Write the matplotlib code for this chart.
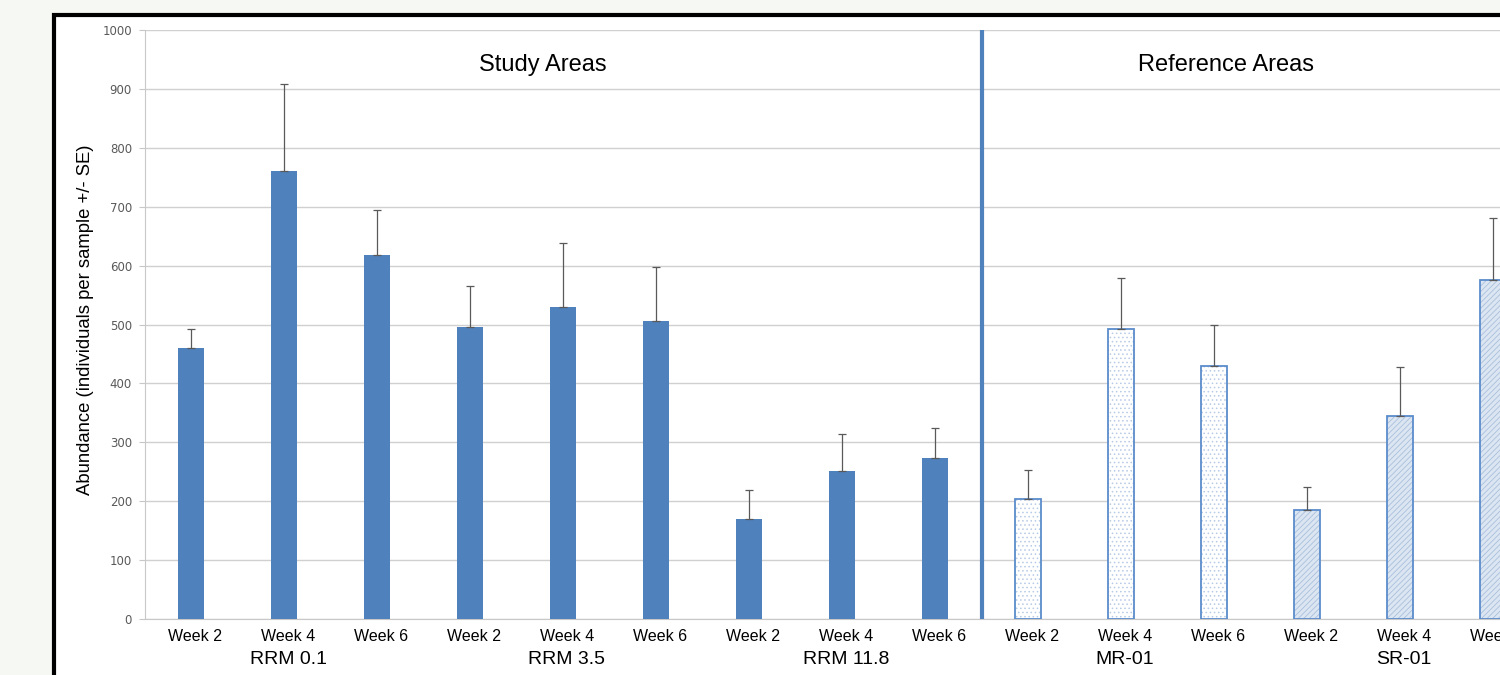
import matplotlib.pyplot as plt
from matplotlib.patches import Rectangle
from matplotlib.transforms import ScaledTranslation
import numpy as np

plt.rcParams['font.family'] = ['Liberation Sans', 'DejaVu Sans']
plt.rcParams['hatch.linewidth'] = 0.6

# dados
groups = ['RRM 0.1', 'RRM 3.5', 'RRM 11.8', 'MR-01', 'SR-01']
weeks = ['Week 2', 'Week 4', 'Week 6']
rrm01 = [460, 761, 618]
rrm35 = [496, 530, 506]
rrm118 = [170, 251, 273]
mr01 = [203, 492, 430]
sr01 = [185, 345, 576]
rrm01_se = [32, 147, 76]
rrm35_se = [69, 108, 92]
rrm118_se = [49, 63, 51]
mr01_se = [50, 87, 69]
sr01_se = [39, 82, 105]
yticks = list(range(0, 1001, 100))

blue = '#4f81bd'
fig = plt.figure(figsize=(15, 6.75), dpi=100)
fig.patch.set_facecolor('#f6f8f3')

# painel branco com borda preta (cortado à direita e embaixo)
fig.patches.append(Rectangle((54 / 1500, -0.1), 1.2, (675 - 15) / 675 + 0.1,
                             transform=fig.transFigure, facecolor='white',
                             edgecolor='black', linewidth=3, zorder=-10))

ax = fig.add_axes([144.5 / 1500, (675 - 619) / 675, 1395 / 1500, 589 / 675])
ax.set_facecolor('none')

means = [rrm01, rrm35, rrm118, mr01, sr01]
errs = [rrm01_se, rrm35_se, rrm118_se, mr01_se, sr01_se]
w = 0.27
for g in range(len(groups)):
    x = np.arange(3) + 3 * g
    if g < 3:
        ax.bar(x, means[g], width=w, color=blue, zorder=3)
    elif g == 3:
        ax.bar(x, means[g], width=w, color='white', edgecolor='#b7cbe6',
               hatch='....', linewidth=0, zorder=3)
        ax.bar(x, means[g], width=w, color='none', edgecolor='#5b8ccc',
               linewidth=1.3, zorder=4)
    else:
        ax.bar(x, means[g], width=w, color='#dce6f2', edgecolor='#a9bfdc',
               hatch='//////', linewidth=0, zorder=3)
        ax.bar(x, means[g], width=w, color='none', edgecolor='#5b8ccc',
               linewidth=1.3, zorder=4)
    ax.errorbar(x, means[g], yerr=[np.zeros(3), errs[g]], fmt='none',
                ecolor='#595959', elinewidth=0.9, capsize=3, capthick=0.9,
                zorder=5)

ax.set_xlim(-0.5, 14.5)
ax.set_ylim(0, 1000)
ax.set_yticks(yticks)
ax.yaxis.grid(True, color='#d0d0d0', linewidth=1, zorder=0)
ax.set_axisbelow(True)
for s in ['top', 'right']:
    ax.spines[s].set_visible(False)
ax.spines['left'].set_color('#c8c8c8')
ax.spines['bottom'].set_color('#c8c8c8')
ax.tick_params(axis='y', length=4, color='#c8c8c8', labelsize=8.5,
               labelcolor='#595959', pad=5)
for lab in ax.get_yticklabels():
    lab.set_fontfamily('DejaVu Sans')

# rótulos das semanas levemente deslocados para a direita, como no original
shift = ScaledTranslation(4 / 100, 0, fig.dpi_scale_trans)
ax.set_xticks(np.arange(15))
ax.set_xticklabels(weeks * 5, fontsize=11.5)
ax.tick_params(axis='x', length=0, pad=7)
for lab in ax.get_xticklabels():
    lab.set_transform(lab.get_transform() + shift)

for g, name in enumerate(groups):
    ax.text(3 * g + 1, -0.068, name,
            transform=ax.get_xaxis_transform() + shift,
            ha='center', va='center', fontsize=14)

fig.text(86 / 1500, (675 - 320) / 675, 'Abundance (individuals per sample +/- SE)',
         rotation=90, ha='center', va='center', fontsize=13.3)

# divisória entre áreas de estudo e referência
ax.axvline(8.5, color=blue, linewidth=3, zorder=6)
ax.text(3.78, 940, 'Study Areas', ha='center', va='center', fontsize=17)
ax.text(11.13, 940, 'Reference Areas', ha='center', va='center', fontsize=17)

fig.savefig('out.png', dpi=100)
